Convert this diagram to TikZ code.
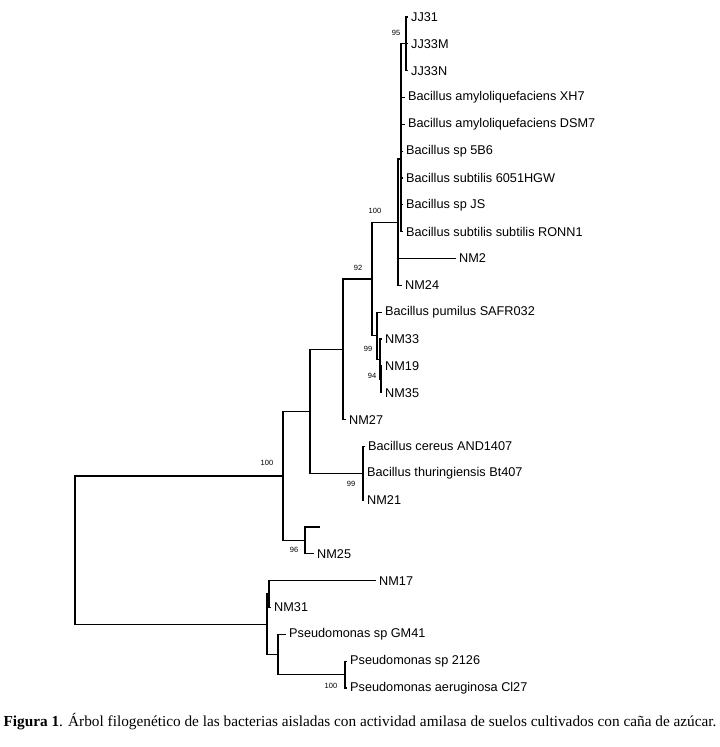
\documentclass[tikz,border=0pt]{standalone}
\usepackage{fontspec}
\setmainfont{Liberation Serif}
\newfontfamily\treefont{Liberation Sans}
\usetikzlibrary{positioning}

\begin{document}
\begin{tikzpicture}[x=1bp,y=-1bp,
  branch/.style={line width=1.2bp},
  taxon/.style={anchor=west,inner sep=0pt,xshift=3bp,font=\treefont\fontsize{12.7bp}{14bp}\selectfont},
  boot/.style={inner sep=0pt,font=\treefont\fontsize{7.5bp}{8bp}\selectfont}]
\useasboundingbox (0,0) rectangle (720,747);
% tips: name/row/end of branch/label
\foreach \nm/\i/\xe/\lab in {jj31/0/408/JJ31, jj33m/1/408/JJ33M, jj33n/2/408/JJ33N,
    xh7/3/405/Bacillus amyloliquefaciens XH7, dsm7/4/405/Bacillus amyloliquefaciens DSM7,
    b5b6/5/403/Bacillus sp 5B6, hgw/6/403/Bacillus subtilis 6051HGW,
    spjs/7/403/Bacillus sp JS, ronn1/8/403/Bacillus subtilis subtilis RONN1,
    nm2/9/456/NM2, nm24/10/402/NM24, pum/11/382/Bacillus pumilus SAFR032,
    nm33/12/382/NM33, nm19/13/382/NM19, nm35/14/382/NM35, nm27/15/346/NM27,
    cereus/16/365/Bacillus cereus AND1407, thur/17/364/Bacillus thuringiensis Bt407,
    nm21/18/364/NM21, nm25/20/314/NM25, nm17/21/376/NM17, nm31/22/271/NM31,
    gm41/23/286/Pseudomonas sp GM41, ps2126/24/347/Pseudomonas sp 2126,
    aerug/25/347/Pseudomonas aeruginosa Cl27}{
  \coordinate (\nm) at (\xe,{17+26.84*\i});
  \node[taxon] (\nm-lab) at (\nm) {\lab};
}
\coordinate (unk) at (320,{17+26.84*19});
% inner nodes
\coordinate (jj) at (406,43.8);
\coordinate (sub) at (401,159);
\coordinate (nB) at (398,222.2);
\coordinate (pR) at (381,379.3);
\coordinate (pQ) at (380,359.2);
\coordinate (pP) at (377,335.7);
\coordinate (nA) at (372,279);
\coordinate (nC) at (343,349.3);
\coordinate (cer) at (363,473.3);
\coordinate (nD) at (310,411.3);
\coordinate (nF) at (305,540.4);
\coordinate (nE) at (283,475.9);
\coordinate (g1) at (269,594);
\coordinate (ps2) at (345,674.6);
\coordinate (ps1) at (278,654.5);
\coordinate (nG) at (267,624.3);
\coordinate (root) at (75,550.1);
% branches
\foreach \p/\c in {jj/jj31, jj/jj33m, jj/jj33n, sub/jj, sub/xh7, sub/dsm7, sub/b5b6,
    sub/hgw, sub/spjs, sub/ronn1, nB/sub, nB/nm2, nB/nm24, nA/nB, nA/pP, pP/pum,
    pP/pQ, pQ/nm33, pQ/pR, pR/nm19, pR/nm35, nC/nA, nC/nm27, cer/cereus, cer/thur,
    cer/nm21, nD/nC, nD/cer, nF/unk, nF/nm25, nE/nD, nE/nF, g1/nm17, g1/nm31,
    ps2/ps2126, ps2/aerug, ps1/gm41, ps1/ps2, nG/g1, nG/ps1, root/nE, root/nG}
  \draw[branch] (\p) |- (\c);
% bootstrap values
\node[boot,xshift=-10bp,yshift=11bp] (bs-jj) at (jj) {95};
\node[boot,xshift=-23bp,yshift=11bp] (bs-nB) at (nB) {100};
\node[boot,xshift=-14bp,yshift=11bp] (bs-nA) at (nA) {92};
\node[boot,xshift=-12bp,yshift=10bp] (bs-pQ) at (pQ) {99};
\node[boot,xshift=-9bp,yshift=3bp] (bs-pR) at (pR) {94};
\node[boot,xshift=-16bp,yshift=13bp] (bs-nE) at (nE) {100};
\node[boot,xshift=-12bp,yshift=-11bp] (bs-cer) at (cer) {99};
\node[boot,xshift=-11bp,yshift=-10bp] (bs-nF) at (nF) {96};
\node[boot,xshift=-14bp,yshift=-11bp] (bs-ps2) at (ps2) {100};
% caption
\node[inner sep=0pt,font=\fontsize{15.3bp}{17bp}\selectfont] (caption) at (360,722)
  {\textbf{Figura 1}. Árbol filogenético de las bacterias aisladas con actividad amilasa de suelos cultivados con caña de azúcar.};
\end{tikzpicture}
\end{document}
